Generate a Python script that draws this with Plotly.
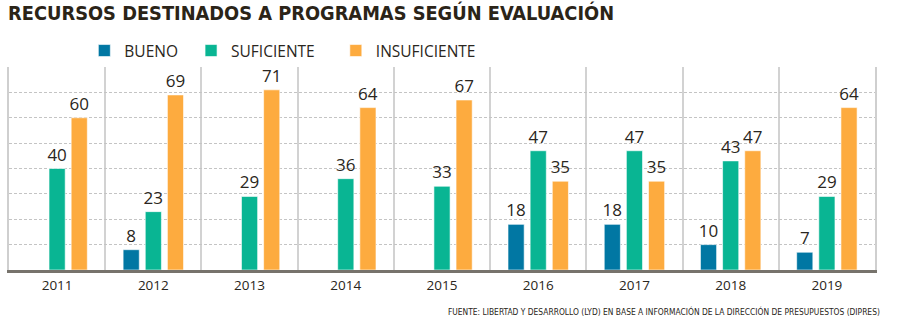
import plotly.graph_objects as go

years = ["2011", "2012", "2013", "2014", "2015", "2016", "2017", "2018", "2019"]
bueno = [None, 8, None, None, None, 18, 18, 10, 7]
suficiente = [40, 23, 29, 36, 33, 47, 47, 43, 29]
insuficiente = [60, 69, 71, 64, 67, 35, 35, 47, 64]

NB = "\u00a0"
series = [
    ("BUENO" + NB * 2, bueno, "#0177A3"),
    ("SUFICIENTE" + NB * 4, suficiente, "#09B593"),
    ("INSUFICIENTE", insuficiente, "#FDAB3F"),
]

label_font = "Open Sans"
cond_font = "DejaVu Sans Condensed"
fig = go.Figure()
for name, vals, color in series:
    fig.add_trace(go.Bar(
        x=years, y=vals, name=name,
        marker=dict(color=color, line=dict(color="rgba(255,255,255,0.6)", width=1)),
        text=[("" if v is None else str(v)) for v in vals],
        textposition="outside",
        constraintext="none",
        textfont=dict(family=label_font, size=17, color="#2a2620"),
        cliponaxis=False,
    ))

fig.update_layout(
    width=900, height=322,
    margin=dict(l=9, r=25, t=67, b=52),
    paper_bgcolor="white", plot_bgcolor="white",
    barmode="group", bargap=0.31, bargroupgap=0.27,
    title=dict(
        text="<b>RECURSOS DESTINADOS A PROGRAMAS SEGÚN EVALUACIÓN</b>",
        x=0.009, xanchor="left", y=0.96, yanchor="middle",
        font=dict(family=cond_font, size=19.8, color="#2b2418"),
    ),
    legend=dict(
        orientation="h", x=0.087, xanchor="left", y=1.079, yanchor="middle",
        font=dict(family=label_font, size=15.5, color="#2a2620"),
        traceorder="normal", itemclick=False,
        bgcolor="rgba(0,0,0,0)",
    ),
    showlegend=True,
    font=dict(family=label_font, color="#2a2620"),
)

fig.update_xaxes(
    type="category", tickson="boundaries", showgrid=True,
    gridcolor="#d2d2d2", gridwidth=1.5,
    showline=True, linecolor="#77736c", linewidth=3,
    ticks="", tickfont=dict(family=label_font, size=13.5, color="#2a2620"),
    ticklabelstandoff=1,
)
fig.update_yaxes(
    range=[0, 80], dtick=10, showticklabels=False,
    showgrid=True, gridcolor="#c4c4c4", griddash="3px,2px", gridwidth=1,
    zeroline=False, showline=True, linecolor="#cfcfcf", linewidth=1.5, mirror=True,
)

fig.add_annotation(
    text="FUENTE: LIBERTAD Y DESARROLLO (LYD) EN BASE A INFORMACIÓN DE LA DIRECCIÓN DE PRESUPUESTOS (DIPRES)",
    xref="paper", yref="paper", x=1.008, y=-0.202, xanchor="right", yanchor="middle",
    showarrow=False, font=dict(family=cond_font, size=8.4, color="#2a2620"),
)

fig.write_html("out.html")
